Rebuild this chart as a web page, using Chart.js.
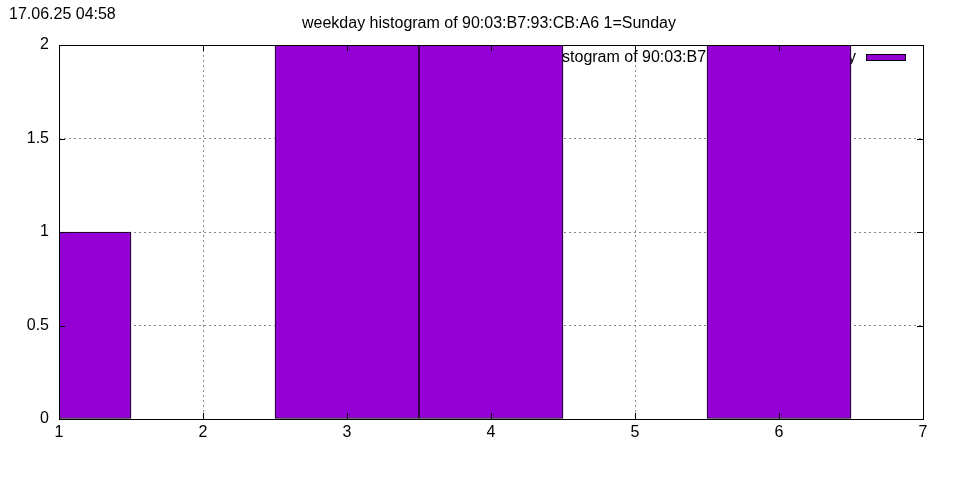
<!DOCTYPE html>
<html>
<head>
<meta charset="utf-8">
<script src="https://cdn.jsdelivr.net/npm/chart.js@4"></script>
<style>
  html, body { margin: 0; padding: 0; background: #fff; }
  #wrap { width: 960px; height: 480px; }
</style>
</head>
<body>
<div id="wrap"><canvas id="grafico" width="960" height="480"></canvas></div>
<script>
// dados
const dias = [1, 2, 3, 4, 5, 6, 7];
const contagens = [1, 0, 2, 2, 0, 2, 0];
const ticksY = [0, 0.5, 1, 1.5, 2];
const titulo = 'weekday histogram of 90:03:B7:93:CB:A6 1=Sunday';
const carimbo = '17.06.25 04:58';

const roxo = '#9400d3';
const fonte = 'Liberation Sans, Arial, sans-serif';

// moldura, tiques para dentro e textos extra (estilo gnuplot)
const pluginGnuplot = {
  id: 'gnuplot',
  beforeDatasetsDraw(chart) {
    const c = chart.ctx;
    // legenda fica atrás das barras
    c.save();
    c.font = '16px ' + fonte;
    c.fillStyle = '#000';
    c.textAlign = 'right';
    c.textBaseline = 'alphabetic';
    c.fillText(titulo, 856, 62);
    c.fillStyle = roxo;
    c.fillRect(866, 54, 39, 7);
    c.strokeStyle = '#000';
    c.lineWidth = 1;
    c.strokeRect(866.5, 54.5, 39, 6);
    c.restore();
  },
  afterDraw(chart) {
    const c = chart.ctx;
    const a = chart.chartArea;
    const sx = chart.scales.x, sy = chart.scales.y;
    c.save();
    c.strokeStyle = '#000';
    c.lineWidth = 1;
    c.beginPath();
    dias.forEach(d => {
      const px = Math.round(sx.getPixelForValue(d)) + 0.5;
      c.moveTo(px, a.bottom); c.lineTo(px, a.bottom - 6);
      c.moveTo(px, a.top); c.lineTo(px, a.top + 6);
    });
    ticksY.forEach(v => {
      const py = Math.round(sy.getPixelForValue(v)) + 0.5;
      c.moveTo(a.left, py); c.lineTo(a.left + 6, py);
      c.moveTo(a.right, py); c.lineTo(a.right - 6, py);
    });
    c.stroke();
    c.strokeRect(Math.round(a.left) + 0.5, Math.round(a.top) + 0.5,
      Math.round(a.right - a.left), Math.round(a.bottom - a.top));

    c.font = '16px ' + fonte;
    c.fillStyle = '#000';
    c.textBaseline = 'alphabetic';
    c.textAlign = 'left';
    c.fillText(carimbo, 9, 19);
    c.textAlign = 'center';
    c.fillText(titulo, 489, 28);
    c.restore();
  }
};

const ctx = document.getElementById('grafico').getContext('2d');
const grafico = new Chart(ctx, {
  type: 'bar',
  data: {
    datasets: [{
      label: titulo,
      data: dias.map((d, i) => ({ x: d, y: contagens[i] })),
      backgroundColor: roxo,
      borderColor: '#000',
      borderWidth: 1,
      borderSkipped: false,
      barPercentage: 1,
      categoryPercentage: 1
    }]
  },
  options: {
    responsive: false,
    animation: false,
    layout: { padding: { top: 45, right: 37, left: 0, bottom: 0 } },
    plugins: {
      legend: { display: false },
      title: { display: false },
      tooltip: { enabled: false }
    },
    scales: {
      x: {
        type: 'linear',
        min: 1,
        max: 7,
        offset: false,
        afterFit(s) { s.height = 61; },
        afterBuildTicks(s) { s.ticks = dias.map(v => ({ value: v })); },
        ticks: { color: '#000', font: { family: fonte, size: 16 }, padding: 4, maxRotation: 0 },
        grid: {
          offset: false,
          drawTicks: false,
          color: c => (c.tick && (c.tick.value === 1 || c.tick.value === 7)) ? 'rgba(0,0,0,0)' : '#888'
        },
        border: { display: false, dash: [2, 3] }
      },
      y: {
        min: 0,
        max: 2,
        afterFit(s) { s.width = 59; },
        afterBuildTicks(s) { s.ticks = ticksY.map(v => ({ value: v })); },
        ticks: {
          color: '#000',
          font: { family: fonte, size: 16 },
          padding: 10,
          callback: v => String(v)
        },
        grid: {
          offset: false,
          drawTicks: false,
          color: c => (c.tick && (c.tick.value === 0 || c.tick.value === 2)) ? 'rgba(0,0,0,0)' : '#888'
        },
        border: { display: false, dash: [2, 3] }
      }
    }
  },
  plugins: [pluginGnuplot]
});
</script>
</body>
</html>
